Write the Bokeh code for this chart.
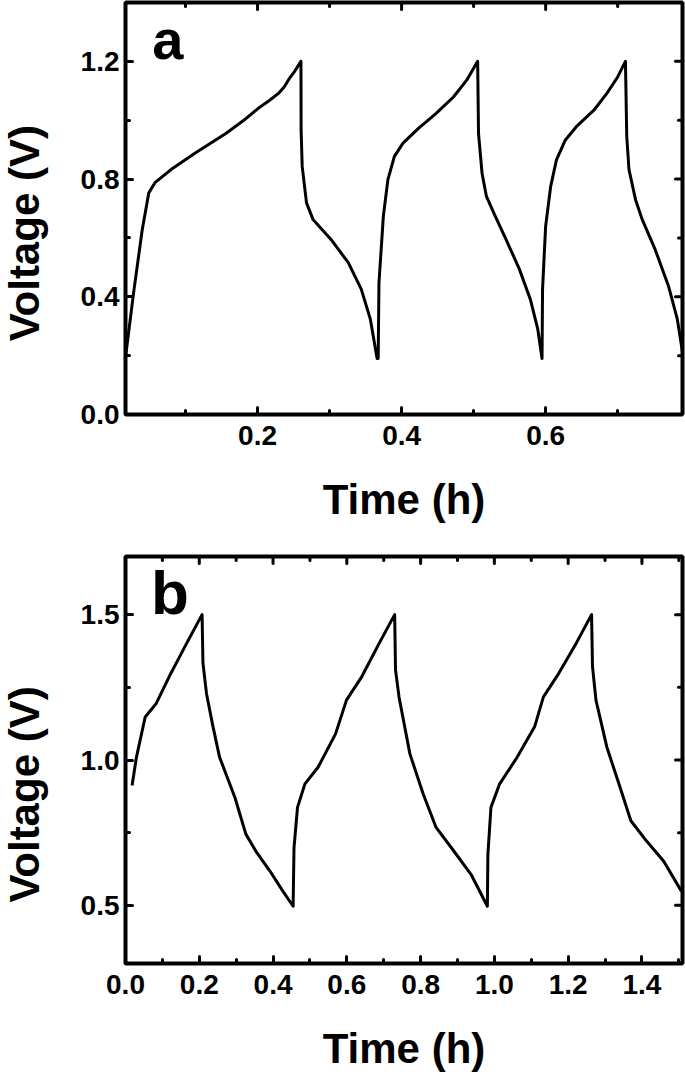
import math
from bokeh.plotting import figure
from bokeh.models import FixedTicker, PrintfTickFormatter, Label, Range1d
from bokeh.layouts import column, row
from bokeh.embed import file_html
from bokeh.resources import INLINE

# ---- data: panel a (time h, voltage V) ----
time_a = [0.017, 0.028, 0.040, 0.049, 0.058, 0.0825, 0.113, 0.156, 0.18, 0.204, 0.216, 0.229,
          0.237, 0.244, 0.252, 0.2603,
          0.2605, 0.262, 0.268, 0.277, 0.302, 0.326, 0.344, 0.3565, 0.366,
          0.3675, 0.3686, 0.3747, 0.381, 0.39, 0.402, 0.4234, 0.448, 0.472, 0.4904, 0.5056,
          0.5068, 0.5117, 0.5178, 0.53, 0.545, 0.5635, 0.5787, 0.589, 0.595,
          0.5957, 0.6, 0.607, 0.615, 0.6274, 0.6426, 0.667, 0.685, 0.7, 0.7108,
          0.7126, 0.7157, 0.7248, 0.734, 0.752, 0.7705, 0.7827, 0.79]
volt_a = [0.20, 0.415, 0.629, 0.753, 0.789, 0.837, 0.888, 0.955, 0.998, 1.046, 1.066, 1.091,
          1.113, 1.141, 1.168, 1.20,
          0.967, 0.843, 0.719, 0.663, 0.595, 0.516, 0.426, 0.325, 0.19,
          0.19, 0.448, 0.674, 0.798, 0.877, 0.922, 0.972, 1.023, 1.079, 1.136, 1.20,
          0.955, 0.82, 0.741, 0.674, 0.595, 0.494, 0.392, 0.291, 0.19,
          0.426, 0.64, 0.775, 0.865, 0.933, 0.978, 1.034, 1.091, 1.147, 1.20,
          0.944, 0.832, 0.73, 0.663, 0.561, 0.437, 0.325, 0.212]

# ---- data: panel b ----
time_b = [0.0178, 0.0297, 0.0534, 0.083, 0.1186, 0.166, 0.2076,
          0.21, 0.2195, 0.2373, 0.255, 0.2966, 0.3263, 0.356, 0.3915, 0.427, 0.4544,
          0.4568, 0.4663, 0.4864, 0.522, 0.5695, 0.599, 0.6407, 0.688, 0.7297,
          0.732, 0.7415, 0.771, 0.807, 0.842, 0.89, 0.937, 0.981,
          0.9824, 0.9907, 1.0144, 1.062, 1.109, 1.133, 1.1746, 1.222, 1.2635,
          1.266, 1.2754, 1.305, 1.3407, 1.370, 1.412, 1.459, 1.507]
volt_b = [0.912, 1.01, 1.148, 1.194, 1.287, 1.402, 1.5,
          1.333, 1.229, 1.114, 1.01, 0.871, 0.745, 0.681, 0.618, 0.548, 0.497,
          0.698, 0.837, 0.918, 0.975, 1.09, 1.206, 1.287, 1.402, 1.5,
          1.31, 1.217, 1.021, 0.883, 0.768, 0.687, 0.606, 0.497,
          0.675, 0.837, 0.918, 1.01, 1.114, 1.217, 1.298, 1.402, 1.5,
          1.321, 1.206, 1.044, 0.906, 0.791, 0.722, 0.652, 0.549]

# ---- ticks ----
xticks_a = [0.2, 0.4, 0.6]
xminor_a = [0.1, 0.3, 0.5, 0.7]
yticks_a = [0.0, 0.4, 0.8, 1.2]
yminor_a = [0.2, 0.6, 1.0]
xticks_b = [0.0, 0.2, 0.4, 0.6, 0.8, 1.0, 1.2, 1.4]
xminor_b = [0.1, 0.3, 0.5, 0.7, 0.9, 1.1, 1.3, 1.5]
yticks_b = [0.5, 1.0, 1.5]
yminor_b = [0.75, 1.25]

FONT = "Liberation Sans"
LABEL_W = 52


def style_axis(ax, standoff):
    ax.axis_line_color = None
    ax.major_tick_in = 7
    ax.major_tick_out = 0
    ax.minor_tick_in = 4
    ax.minor_tick_out = 0
    ax.major_tick_line_width = 3
    ax.minor_tick_line_width = 3
    ax.major_tick_line_color = "black"
    ax.minor_tick_line_color = "black"
    ax.major_tick_line_cap = "round"
    ax.minor_tick_line_cap = "round"
    ax.major_label_text_font = FONT
    ax.major_label_text_font_style = "bold"
    ax.major_label_text_font_size = "28px"
    ax.major_label_text_color = "black"
    ax.major_label_standoff = standoff
    ax.formatter = PrintfTickFormatter(format="%.1f")


def mirror_ticks(p, xr, yr, xt, xm, yt, ym):
    # ticks on the top and right frame edges (half of each dash is clipped by the frame)
    kw = dict(marker="dash", line_color="black", line_width=3, line_cap="round")
    p.scatter(x=xt, y=[yr[1]] * len(xt), size=14, angle=math.pi / 2, **kw)
    p.scatter(x=xm, y=[yr[1]] * len(xm), size=8, angle=math.pi / 2, **kw)
    p.scatter(x=[xr[1]] * len(yt), y=yt, size=14, angle=0, **kw)
    p.scatter(x=[xr[1]] * len(ym), y=ym, size=8, angle=0, **kw)


def ylabel_strip(height, center_from_top):
    # narrow strip holding the rotated y-axis title
    s = figure(width=LABEL_W, height=height, output_backend="svg", toolbar_location=None,
               x_range=Range1d(0, LABEL_W), y_range=Range1d(0, height),
               x_axis_type=None, y_axis_type=None, min_border=0)
    s.grid.visible = False
    s.outline_line_color = None
    s.add_layout(Label(x=24, y=height - center_from_top, text="Voltage (V)",
                       angle=math.pi / 2, text_align="center", text_baseline="middle",
                       text_font=FONT, text_font_style="bold", text_font_size="42px",
                       text_color="black"))
    return s


def make_panel(xs, ys, xr, yr, xt, xm, yt, ym, width, height, top, bottom,
               letter, letter_xy, letter_size):
    p = figure(width=width, height=height, output_backend="svg", toolbar_location=None,
               x_range=Range1d(*xr), y_range=Range1d(*yr),
               min_border_left=125 - LABEL_W, min_border_right=3,
               min_border_top=top, min_border_bottom=bottom)
    p.grid.visible = False
    p.outline_line_color = "black"
    p.outline_line_width = 4
    p.background_fill_color = "white"
    p.border_fill_color = "white"

    p.xaxis.ticker = FixedTicker(ticks=xt, minor_ticks=xm)
    p.yaxis.ticker = FixedTicker(ticks=yt, minor_ticks=ym)
    style_axis(p.xaxis[0], 11)
    style_axis(p.yaxis[0], 6)
    p.xaxis.axis_label = "Time (h)"
    p.xaxis.axis_label_text_font = FONT
    p.xaxis.axis_label_text_font_style = "bold"
    p.xaxis.axis_label_text_font_size = "42px"
    p.xaxis.axis_label_text_color = "black"
    p.xaxis.axis_label_standoff = 28

    mirror_ticks(p, xr, yr, xt, xm, yt, ym)

    p.line(xs, ys, line_color="black", line_width=3, line_join="round")

    p.add_layout(Label(x=letter_xy[0], y=letter_xy[1], text=letter,
                       text_font=FONT, text_font_style="bold", text_font_size=letter_size,
                       text_baseline="alphabetic", text_color="black"))
    return p


HA, HB = 525, 549
pa = make_panel(time_a, volt_a, (0.0167, 0.79), (0.0, 1.4),
                xticks_a, xminor_a, yticks_a, yminor_a,
                685 - LABEL_W, HA, 2, 111, "a", (0.054, 1.275), "56px")
pb = make_panel(time_b, volt_b, (0.0, 1.51), (0.3, 1.7),
                xticks_b, xminor_b, yticks_b, yminor_b,
                685 - LABEL_W, HB, 31, 105, "b", (0.069, 1.575), "62px")

layout = column(row(ylabel_strip(HA, 294), pa, spacing=0),
                row(ylabel_strip(HB, 321), pb, spacing=0), spacing=0)

open("out.html", "w").write(file_html(layout, INLINE))
